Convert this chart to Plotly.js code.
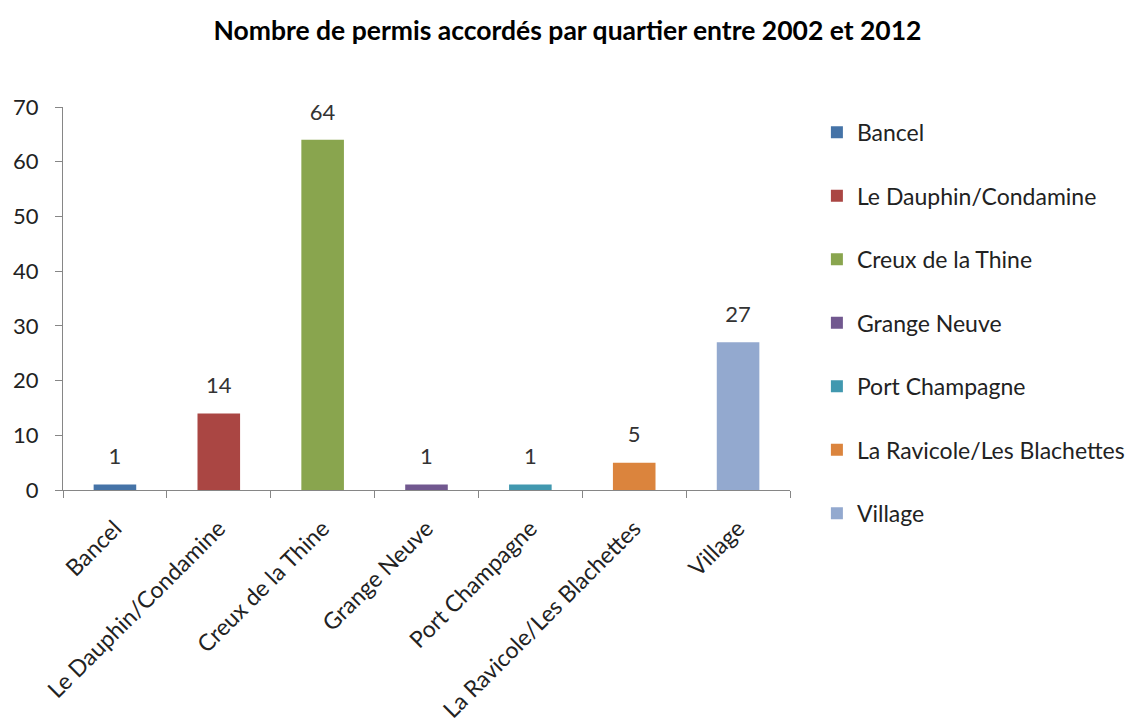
<!DOCTYPE html>
<html>
<head>
<meta charset="utf-8">
<script src="https://cdn.plot.ly/plotly-3.0.1.min.js"></script>
<style>body{margin:0}#plot{width:1135px;height:720px}</style>
</head>
<body>
<div id="plot"></div>
<script>
var quartiers = ['Bancel', 'Le Dauphin/Condamine', 'Creux de la Thine', 'Grange Neuve',
    'Port Champagne', 'La Ravicole/Les Blachettes', 'Village'];
var permis = [1, 14, 64, 1, 1, 5, 27];
var couleurs = ['#4573A7', '#AA4643', '#89A54E', '#71588F', '#4198AF', '#DB843D', '#93A9CF'];

var fontName = 'Lato, "Open Sans", sans-serif';

var traces = quartiers.map(function (q, i) {
    return {
        name: q,
        x: [q],
        y: [permis[i]],
        type: 'bar',
        width: 0.41,
        legendgroup: q,
        marker: { color: couleurs[i] },
        hoverinfo: 'x+y'
    };
});

// data labels, a bit above the bars like in excel (invisible markers push the text up)
traces.push({
    x: quartiers,
    y: permis,
    type: 'scatter',
    mode: 'markers+text',
    text: permis.map(String),
    textposition: 'top center',
    marker: { size: 22, color: 'rgba(0,0,0,0)' },
    textfont: { family: fontName, size: 22, color: '#333' },
    cliponaxis: false,
    showlegend: false,
    hoverinfo: 'skip'
});

var layout = {
    width: 1135,
    height: 720,
    title: {
        text: '<b>Nombre de permis accordés par quartier entre 2002 et 2012</b>',
        font: { family: fontName, size: 26.5, color: '#000' },
        x: 0.5,
        y: 0.958,
        yanchor: 'middle'
    },
    barmode: 'overlay',
    showlegend: true,
    legend: {
        x: 1.037,
        y: 0.99,
        xanchor: 'left',
        yanchor: 'top',
        maxheight: 700,
        font: { family: fontName, size: 23, color: '#222' },
        tracegroupgap: 30.6,
        traceorder: 'grouped'
    },
    margin: { l: 63, r: 345, t: 107, b: 230, autoexpand: false },
    xaxis: {
        type: 'category',
        tickangle: -45,
        tickson: 'boundaries',
        ticks: 'outside',
        ticklen: 7,
        tickcolor: '#868686',
        ticklabelstandoff: 15,
        showline: true,
        linecolor: '#868686',
        linewidth: 1,
        tickfont: { family: fontName, size: 23, color: '#222' },
        showgrid: false
    },
    yaxis: {
        range: [0, 70],
        dtick: 10,
        ticks: 'outside',
        ticklen: 7,
        tickcolor: '#868686',
        ticklabelstandoff: 12,
        showline: true,
        linecolor: '#868686',
        showgrid: false,
        zeroline: false,
        tickfont: { family: fontName, size: 22, color: '#222' }
    },
    paper_bgcolor: '#fff',
    plot_bgcolor: '#fff'
};

Plotly.newPlot(document.getElementById('plot'), traces, layout, { displayModeBar: false });
</script>
</body>
</html>
